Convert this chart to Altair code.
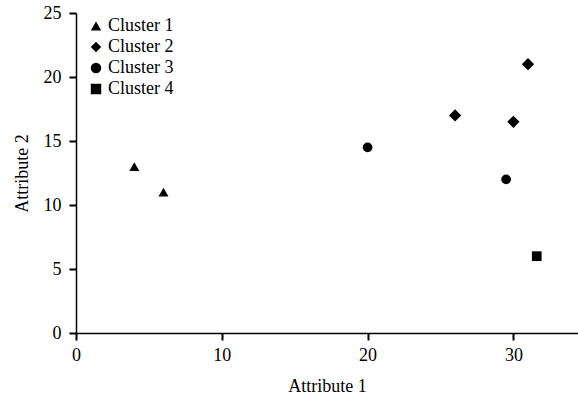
import altair as alt
import pandas as pd

clusters = ["Cluster 1", "Cluster 1", "Cluster 2", "Cluster 2", "Cluster 2",
            "Cluster 3", "Cluster 3", "Cluster 4"]
attr1 = [4, 6, 26, 30, 31, 20, 29.5, 31.6]
attr2 = [13, 11, 17, 16.5, 21, 14.5, 12, 6]

cluster_names = ["Cluster 1", "Cluster 2", "Cluster 3", "Cluster 4"]
shapes = ["triangle-up", "diamond", "circle", "square"]
marker_area = {"Cluster 1": 100, "Cluster 2": 150, "Cluster 3": 95, "Cluster 4": 95}

df = pd.DataFrame({"Cluster": clusters, "Attribute 1": attr1, "Attribute 2": attr2})
df["sz"] = df["Cluster"].map(marker_area)

FONT = "Liberation Serif"
FS = 18

axis_common = dict(grid=False, domainColor="black", domainWidth=1.5, tickColor="black",
                   tickWidth=2, tickSize=7, labelFont=FONT, labelFontSize=FS,
                   labelColor="black", titleFont=FONT, titleFontSize=FS,
                   titleFontWeight="normal", titleColor="black", labelFlush=False)

chart = alt.Chart(df).mark_point(filled=True, opacity=1, color="black", strokeWidth=0).encode(
    x=alt.X("Attribute 1:Q",
            scale=alt.Scale(domain=[0, 34.43], nice=False, zero=True),
            axis=alt.Axis(values=[0, 10, 20, 30], title="Attribute 1",
                          labelPadding=6, titlePadding=13, **axis_common)),
    y=alt.Y("Attribute 2:Q",
            scale=alt.Scale(domain=[0, 25], nice=False),
            axis=alt.Axis(values=[0, 5, 10, 15, 20, 25], title="Attribute 2",
                          labelPadding=8, titlePadding=12, **axis_common)),
    shape=alt.Shape("Cluster:N",
                    scale=alt.Scale(domain=cluster_names, range=shapes),
                    legend=alt.Legend(title=None, orient="none", legendX=11, legendY=4,
                                      labelFont=FONT, labelFontSize=FS, labelColor="black",
                                      symbolFillColor="black", symbolStrokeWidth=0,
                                      symbolStrokeColor="black",
                                      symbolSize=110, rowPadding=3, labelOffset=3,
                                      padding=0)),
    size=alt.Size("sz:Q", scale=None),
).properties(
    width=502, height=320,
    autosize=alt.AutoSizeParams(type="none"),
    padding={"left": 76, "top": 13, "right": 0, "bottom": 61},
).configure(background="white").configure_view(stroke=None)

chart.save("out.html", embed_options={"renderer": "svg", "actions": False})
